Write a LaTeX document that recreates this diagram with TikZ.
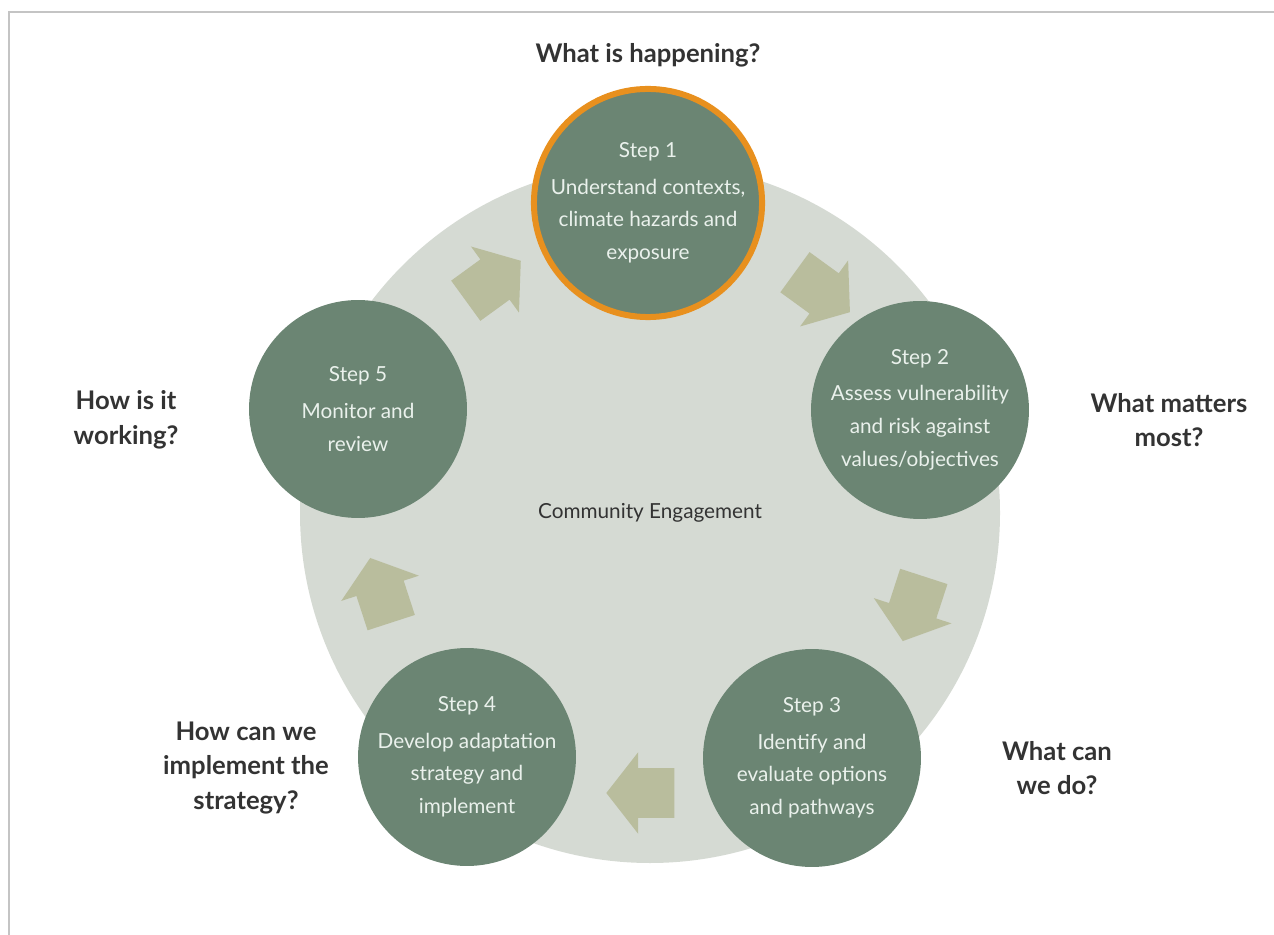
\documentclass[tikz,border=0pt]{standalone}
\usepackage{fontspec}
\setmainfont{Lato}
\usetikzlibrary{shapes.arrows,calc}

\definecolor{stepgreen}{HTML}{6B8573}
\definecolor{ringgrey}{HTML}{D5DAD3}
\definecolor{arrowolive}{HTML}{B9BD9D}
\definecolor{ringorange}{HTML}{E8901E}
\definecolor{steptext}{HTML}{EAF1EC}
\definecolor{framegrey}{HTML}{C4C4C4}
\definecolor{labelgrey}{HTML}{333333}

\tikzset{
  stepcircle/.style={circle, fill=stepgreen, text=steptext, minimum size=4.36cm,
    inner sep=0pt, align=center, font=\fontsize{11.8}{18.7}\selectfont},
  question/.style={align=center, text=labelgrey, font=\fontsize{14.6}{19.6}\selectfont\bfseries},
  blockarrow/.style={single arrow, fill=arrowolive, draw=none, inner sep=0pt,
    minimum height=1.36cm, single arrow head extend=0.32cm, single arrow tip angle=104}
}

\begin{document}
\begin{tikzpicture}[x=0.02cm,y=-0.02cm]
\useasboundingbox (0,0) rectangle (1274,935);

% frame
\draw[framegrey, line width=0.04cm] (9,935) -- (9,12) -- (1274,12);

% big ring
\coordinate (c) at (650,513);
\fill[ringgrey] (c) circle (350);
\node[text=labelgrey, font=\fontsize{11.8}{14}\selectfont] (ce) at (c) {Community Engagement};

% block arrows, clockwise (the rule sets the shaft width)
\foreach \a/\n in {54/a12,-18/a23,-90/a34,-162/a45,126/a51}
\node[blockarrow, rotate=\a-90] (\n) at ($(c)+(-\a:280)$) {\rule{0pt}{0.98cm}};

% steps
\node[stepcircle, minimum size=4.5cm, draw=ringorange, line width=0.12cm] (s1) at (648,203)
  {Step 1\\[2pt] Understand contexts,\\ climate hazards and\\ exposure};
\node[stepcircle] (s2) at (920,410)
  {Step 2\\[2pt] Assess vulnerability\\ and risk against\\ values/objectives};
\node[stepcircle] (s3) at (812,758)
  {Step 3\\[2pt] Identify and\\ evaluate options\\ and pathways};
\node[stepcircle] (s4) at (467,757)
  {Step 4\\[2pt] Develop adaptation\\ strategy and\\ implement};
\node[stepcircle] (s5) at (358,409)
  {Step 5\\[2pt] Monitor and\\ review};

% questions
\node[question] (q1) at (648,55) {What is happening?};
\node[question] (q2) at (1169,420) {What matters\\ most?};
\node[question] (q3) at (1057,768) {What can\\ we do?};
\node[question] (q4) at (246,768) {How can we\\ implement the\\ strategy?};
\node[question] (q5) at (126,420) {How is it\\ working?};

\end{tikzpicture}
\end{document}
